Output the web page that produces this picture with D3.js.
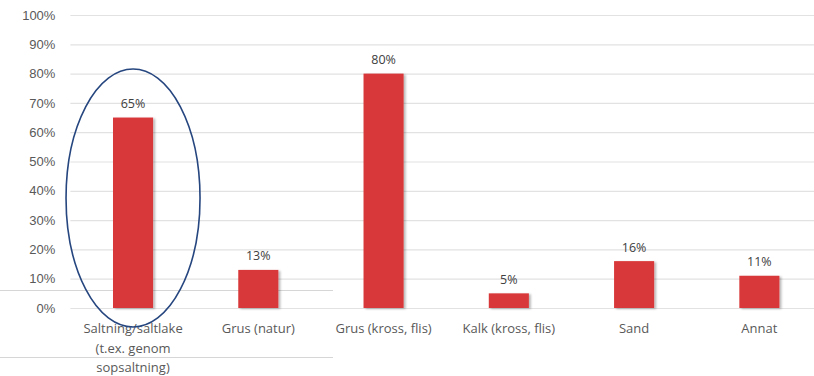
<!DOCTYPE html>
<html>
<head>
<meta charset="utf-8">
<script src="https://cdn.jsdelivr.net/npm/d3@7"></script>
<style>
  html, body { margin: 0; padding: 0; background: #fff; }
  svg { display: block; font-family: "Open Sans", "Liberation Sans", sans-serif; }
</style>
</head>
<body>
<svg id="chart" width="814" height="376"></svg>
<script>
// Material used, share of respondents
const categories = [
  ["Saltning/saltlake", "(t.ex. genom", "sopsaltning)"],
  ["Grus (natur)"],
  ["Grus (kross, flis)"],
  ["Kalk (kross, flis)"],
  ["Sand"],
  ["Annat"]
];
const values = [65, 13, 80, 5, 16, 11];
const yTicks = [0, 10, 20, 30, 40, 50, 60, 70, 80, 90, 100];

const svg = d3.select("#chart");
const plot = { left: 70.4, right: 822, top: 15, bottom: 308 };

const x = d3.scaleBand()
  .domain(d3.range(categories.length))
  .range([plot.left, plot.right])
  .paddingInner(0.68)
  .paddingOuter(0.34);

const y = d3.scaleLinear()
  .domain([0, 100])
  .range([plot.bottom, plot.top]);

// Soft shadow under the bars
const defs = svg.append("defs");
const f = defs.append("filter").attr("id", "shadow")
  .attr("x", "-20%").attr("y", "-20%").attr("width", "150%").attr("height", "150%");
f.append("feDropShadow").attr("dx", 2).attr("dy", 1).attr("stdDeviation", 1.2)
  .attr("flood-color", "#000").attr("flood-opacity", 0.28);

// Ruled lines from the surrounding table
const rules = svg.append("g").attr("stroke", "#d6d6d6").attr("stroke-width", 1);
rules.append("line").attr("x1", 0).attr("x2", 333).attr("y1", 290.5).attr("y2", 290.5);
rules.append("line").attr("x1", 0).attr("x2", 333).attr("y1", 357.5).attr("y2", 357.5);

// Horizontal gridlines and y axis labels
const yAxis = d3.axisLeft(y)
  .tickValues(yTicks)
  .tickSize(-(814 - plot.left))
  .tickPadding(15)
  .tickFormat(d => d + "%");

const gy = svg.append("g")
  .attr("transform", `translate(${plot.left},0)`)
  .call(yAxis);
gy.select(".domain").remove();
gy.selectAll(".tick line").attr("stroke", "#e2e2e2").attr("stroke-width", 1.2);
gy.selectAll(".tick text")
  .attr("fill", "#595959")
  .style("font-size", "13px");

// Bars
svg.append("g")
  .selectAll("rect")
  .data(values)
  .join("rect")
  .attr("x", (d, i) => x(i))
  .attr("y", d => y(d))
  .attr("width", x.bandwidth())
  .attr("height", d => y(0) - y(d))
  .attr("fill", "#d9393a")
  .attr("filter", "url(#shadow)");

// Value labels
svg.append("g")
  .selectAll("text")
  .data(values)
  .join("text")
  .attr("x", (d, i) => x(i) + x.bandwidth() / 2)
  .attr("y", d => y(d) - 9.5)
  .attr("text-anchor", "middle")
  .attr("fill", "#404040")
  .style("font-size", "12.5px")
  .text(d => d + "%");

// Category labels, wrapped over several lines
const xl = svg.append("g")
  .selectAll("text")
  .data(categories)
  .join("text")
  .attr("text-anchor", "middle")
  .attr("fill", "#595959")
  .style("font-size", "13px")
  .attr("transform", (d, i) => `translate(${x(i) + x.bandwidth() / 2},333)`);
xl.selectAll("tspan")
  .data(d => d)
  .join("tspan")
  .attr("x", 0)
  .attr("dy", (d, j) => j === 0 ? 0 : 19.5)
  .text(d => d);

// Highlight ring around the first category
svg.append("ellipse")
  .attr("cx", x(0) + x.bandwidth() / 2)
  .attr("cy", 198)
  .attr("rx", 67)
  .attr("ry", 129)
  .attr("fill", "none")
  .attr("stroke", "#26467f")
  .attr("stroke-width", 1.6);
</script>
</body>
</html>
